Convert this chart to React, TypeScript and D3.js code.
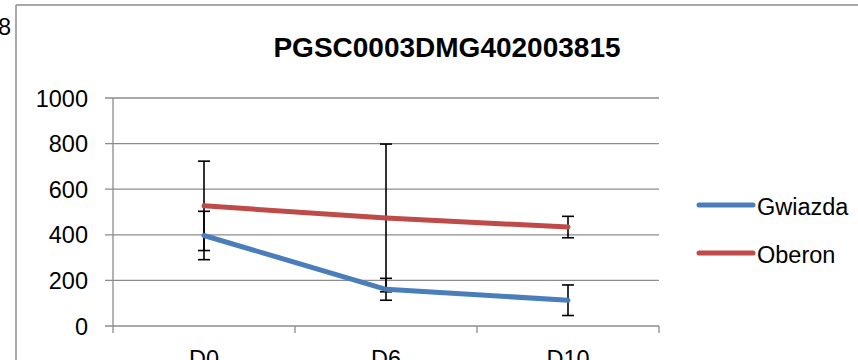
import React from "react";
import * as d3 from "d3";

const categories = ["D0", "D6", "D10"];
const seriesNames = ["Gwiazda", "Oberon"];
const gwiazdaValues = [397, 161, 113];
const oberonValues = [527, 474, 434];
const gwiazdaErrors = [106, 48, 67];
const oberonErrors = [196, 324, 47];
const yTicks = [0, 200, 400, 600, 800, 1000];
const titleText = "PGSC0003DMG402003815";

const colors = ["#4a7ebb", "#be4b48"];
const W = 858;
const H = 360;
const font = "'Liberation Sans', Arial, sans-serif";

export default function App() {
  const x = d3.scaleBand<string>().domain(categories).range([113, 659]).padding(0);
  const y = d3.scaleLinear().domain([0, 1000]).range([326, 98]);
  const cx = (c: string) => (x(c) as number) + x.bandwidth() / 2;
  const line = d3
    .line<number>()
    .x((_, i) => cx(categories[i]))
    .y((v) => y(v));

  const series = [
    { name: seriesNames[0], values: gwiazdaValues, errors: gwiazdaErrors, color: colors[0] },
    { name: seriesNames[1], values: oberonValues, errors: oberonErrors, color: colors[1] },
  ];
  const grid = "#8c8c8c";
  const [x0, x1] = x.range();

  return (
    <svg
      width={W}
      height={H}
      style={{ position: "absolute", left: 0, top: 0, background: "#fff" }}
      fontFamily={font}
    >
      <rect x={0} y={0} width={W} height={H} fill="#fff" />
      {/* outer frame fragments */}
      <line x1={16} y1={5} x2={W} y2={5} stroke={grid} strokeWidth={1.5} />
      <line x1={16} y1={5} x2={16} y2={H} stroke={grid} strokeWidth={1.5} />
      <text x={11} y={35} fontSize={23.5} textAnchor="end" fill="#000">8</text>

      {/* title */}
      <text x={447} y={57} fontSize={28} fontWeight="bold" textAnchor="middle" fill="#000">
        {titleText}
      </text>

      {/* gridlines + y ticks */}
      {yTicks.map((t) => (
        <g key={t}>
          <line x1={105} x2={x1} y1={y(t)} y2={y(t)} stroke={grid} strokeWidth={1.3} />
          <text x={88} y={y(t) + 8.5} fontSize={23.5} textAnchor="end" fill="#000">
            {t}
          </text>
        </g>
      ))}
      {/* y axis */}
      <line x1={x0} x2={x0} y1={y(1000)} y2={333} stroke={grid} strokeWidth={1.3} />
      {/* x ticks */}
      {categories.map((c) => (
        <line
          key={c}
          x1={(x(c) as number) + x.bandwidth()}
          x2={(x(c) as number) + x.bandwidth()}
          y1={y(0)}
          y2={333}
          stroke={grid}
          strokeWidth={1.3}
        />
      ))}
      {categories.map((c) => (
        <text key={c} x={cx(c)} y={367} fontSize={23.5} textAnchor="middle" fill="#000">
          {c}
        </text>
      ))}

      {/* error bars */}
      {series.map((s) =>
        s.values.map((v, i) => {
          const px = cx(categories[i]);
          const top = y(v + s.errors[i]);
          const bot = y(v - s.errors[i]);
          return (
            <g key={s.name + i} stroke="#000" strokeWidth={1.6}>
              <line x1={px} x2={px} y1={top} y2={bot} />
              <line x1={px - 6} x2={px + 6} y1={top} y2={top} />
              <line x1={px - 6} x2={px + 6} y1={bot} y2={bot} />
            </g>
          );
        })
      )}

      {/* lines */}
      {series.map((s) => (
        <path
          key={s.name}
          d={line(s.values) || ""}
          fill="none"
          stroke={s.color}
          strokeWidth={5}
          strokeLinecap="round"
          strokeLinejoin="round"
        />
      ))}

      {/* legend */}
      {series.map((s, i) => {
        const ly = 205 + i * 48;
        return (
          <g key={s.name}>
            <line x1={699} x2={753} y1={ly} y2={ly} stroke={s.color} strokeWidth={5} strokeLinecap="round" />
            <text x={757} y={ly + 10} fontSize={23.5} fill="#000">
              {s.name}
            </text>
          </g>
        );
      })}
    </svg>
  );
}
